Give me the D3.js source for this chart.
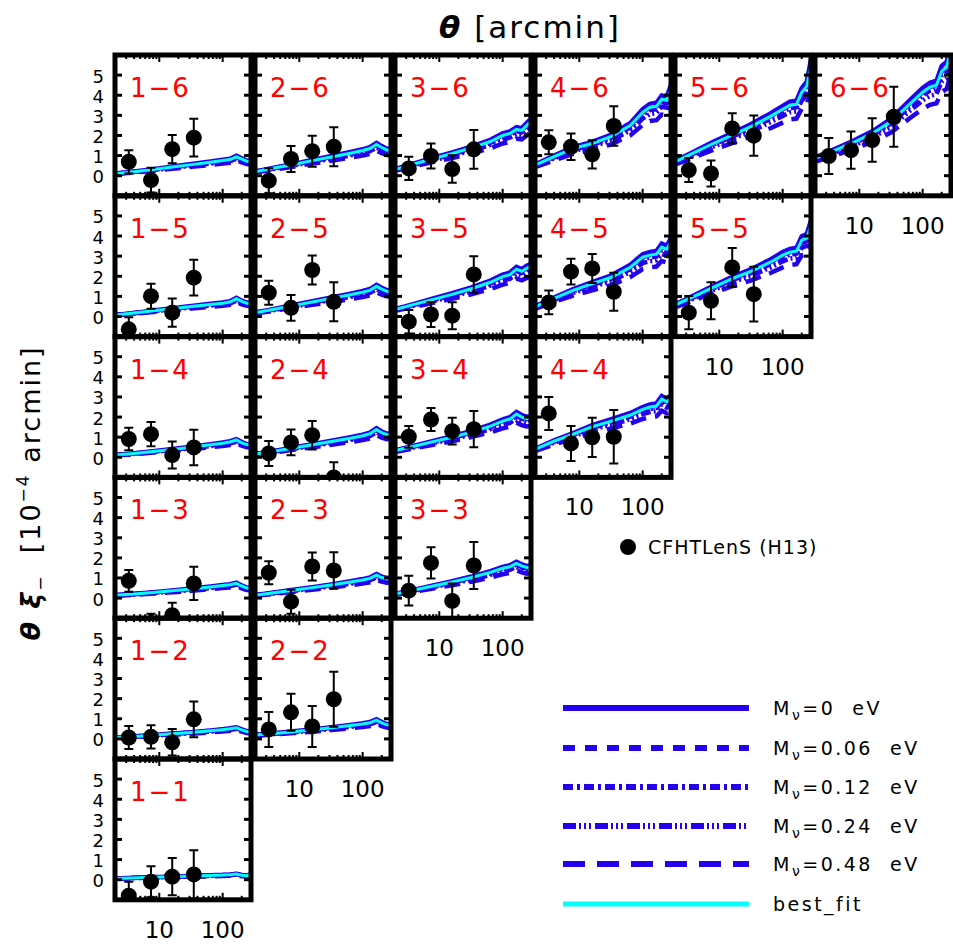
<!DOCTYPE html>
<html><head><meta charset="utf-8">
<script src="https://cdn.jsdelivr.net/npm/d3@7"></script>
<style>body{margin:0;background:#fff} text{font-family:"DejaVu Sans",sans-serif}</style>
</head><body><svg id="c" width="953" height="946"></svg>
<script>
// ---------- data ----------
const thetaGrid = [2, 4, 8, 16, 32, 64, 100, 130, 165, 200, 240, 280];
const thetaData = [3.3, 7.4, 16, 35];
const panelNames = ["1-6","2-6","3-6","4-6","5-6","6-6",
                    "1-5","2-5","3-5","4-5","5-5",
                    "1-4","2-4","3-4","4-4",
                    "1-3","2-3","3-3",
                    "1-2","2-2",
                    "1-1"];
// best_fit curve per panel (theta xi_-, 1e-4 arcmin) at thetaGrid
const bestFit = [
  [0.10,0.20,0.31,0.43,0.55,0.67,0.75,0.80,0.94,0.82,0.72,0.70],
  [0.20,0.38,0.56,0.75,0.93,1.12,1.25,1.35,1.55,1.40,1.28,1.27],
  [0.31,0.58,0.85,1.10,1.38,1.70,2.00,2.10,2.30,2.25,2.50,2.70],
  [0.53,0.95,1.35,1.60,1.95,2.50,3.15,3.40,3.45,3.80,3.75,4.30],
  [0.69,1.15,1.60,2.02,2.45,2.95,3.30,3.50,3.55,4.15,4.45,5.50],
  [0.86,1.25,1.65,2.10,2.70,3.60,4.15,4.40,4.50,5.20,5.40,6.40],
  [0.07,0.17,0.28,0.39,0.50,0.60,0.66,0.72,0.88,0.75,0.66,0.64],
  [0.19,0.36,0.54,0.72,0.90,1.08,1.21,1.30,1.50,1.36,1.25,1.23],
  [0.35,0.60,0.85,1.10,1.38,1.70,1.98,2.08,2.35,2.25,2.40,2.50],
  [0.48,0.90,1.30,1.63,1.95,2.45,2.95,3.05,3.10,3.45,3.35,3.72],
  [0.57,1.00,1.45,1.88,2.25,2.70,3.05,3.20,3.25,3.80,3.90,4.55],
  [0.11,0.19,0.29,0.39,0.50,0.62,0.70,0.76,0.86,0.72,0.63,0.62],
  [0.16,0.30,0.46,0.62,0.78,0.95,1.07,1.17,1.38,1.22,1.12,1.14],
  [0.33,0.55,0.78,1.00,1.25,1.55,1.80,1.90,2.15,2.00,1.92,1.95],
  [0.39,0.80,1.15,1.52,1.80,2.10,2.38,2.50,2.55,2.90,2.75,2.95],
  [0.14,0.20,0.28,0.36,0.45,0.55,0.62,0.66,0.73,0.60,0.50,0.48],
  [0.14,0.26,0.39,0.52,0.65,0.80,0.90,0.98,1.14,1.02,0.95,0.97],
  [0.20,0.40,0.60,0.80,1.02,1.28,1.48,1.56,1.72,1.60,1.52,1.55],
  [0.07,0.12,0.18,0.25,0.32,0.40,0.46,0.50,0.55,0.45,0.37,0.35],
  [0.19,0.27,0.36,0.45,0.55,0.66,0.74,0.80,0.93,0.80,0.70,0.68],
  [0.06,0.09,0.12,0.15,0.18,0.21,0.23,0.25,0.28,0.22,0.20,0.26]
];
// CFHTLenS (H13) points and errors
const xiData = [
  [0.69,-0.22,1.32,1.89],[-0.25,0.83,1.22,1.44],[0.36,0.98,0.33,1.31],
  [1.66,1.44,1.06,2.47],[0.28,0.11,2.35,1.99],[0.98,1.27,1.77,2.93],
  [-0.64,1.01,0.19,1.93],[1.18,0.43,2.31,0.73],[-0.26,0.10,0.04,2.09],
  [0.70,2.23,2.39,1.23],[0.19,0.78,2.44,1.11],
  [0.91,1.15,0.11,0.49],[0.19,0.74,1.10,-1.00],[1.02,1.88,1.30,1.40],[2.18,0.69,0.99,1.02],
  [0.86,-1.40,-0.85,0.73],[1.26,-0.18,1.57,1.37],[0.37,1.75,-0.14,1.62],
  [0.07,0.10,-0.17,0.97],[0.47,1.32,0.62,1.97],
  [-0.80,-0.10,0.15,0.26]
];
const xiErr = [
  [0.58,0.62,0.70,0.94],[0.62,0.65,0.77,0.97],[0.58,0.62,0.68,0.96],
  [0.60,0.66,0.70,0.98],[0.60,0.65,0.75,1.00],[0.89,0.93,1.08,1.49],
  [0.60,0.62,0.70,0.89],[0.60,0.64,0.72,0.97],[0.58,0.62,0.67,0.91],
  [0.59,0.64,0.72,0.95],[0.83,0.92,0.97,1.36],
  [0.56,0.60,0.67,0.88],[0.62,0.64,0.71,0.75],[0.54,0.57,0.67,0.90],[0.82,0.87,0.97,1.33],
  [0.54,0.62,0.62,0.83],[0.57,0.60,0.70,0.91],[0.74,0.78,0.86,1.17],
  [0.57,0.58,0.66,0.89],[0.87,0.92,1.02,1.37],
  [0.70,0.77,0.93,1.20]
];
const modelMass = ["0", "0.06", "0.12", "0.24", "0.48"];
const modelScale = [1.05, 1.0, 0.96, 0.90, 0.80]; // relative amplitude vs best_fit
const yTicks = [0, 1, 2, 3, 4, 5];
const xMajor = [10, 100];
const xMinor = [3,4,5,6,7,8,9,20,30,40,50,60,70,80,90,200];
const xLabels = ["10", "100"];

// ---------- style ----------
const BLUE = "#2400ee", CYAN = "#00ffff", RED = "#ff0000";
const panelDash = [null, "9,8", "8,3,2,3", "10,3,2,3,2,3,2,3", "16,9"];
const legendDash = [null, "12,10", "10,4,3,4", "13,3,2,3,2,3,2,4", "22,12"];
const PW = 136, PH = 140.8, PX = 140, LEFT = 115, TOP = 55;

const svg = d3.select("#c");
const defs = svg.append("defs");

const yScaleFor = r => d3.scaleLinear().domain([-1, 6]).range([TOP + (r + 1) * PH, TOP + r * PH]);
const xScaleFor = c => d3.scaleLog().domain([2, 280]).range([LEFT + c * PX, LEFT + c * PX + PW]);

panelNames.forEach((name, k) => {
  const [i, j] = name.split("-").map(Number);
  const c = i - 1, r = 6 - j;
  const x = xScaleFor(c), y = yScaleFor(r);
  const x0 = x.range()[0], x1 = x.range()[1], yb = y.range()[0], yt = y.range()[1];
  const g = svg.append("g");
  const cid = "clip" + k;
  defs.append("clipPath").attr("id", cid).append("rect")
    .attr("x", x0).attr("y", yt).attr("width", x1 - x0).attr("height", yb - yt);
  const inner = g.append("g").attr("clip-path", `url(#${cid})`);

  const line = d3.line().x(d => x(d[0])).y(d => y(d[1]));
  for (let m = modelScale.length - 1; m >= 0; m--) {
    const pts = thetaGrid.map((t, q) => [t, bestFit[k][q] * modelScale[m]]);
    inner.append("path").attr("d", line(pts)).attr("fill", "none")
      .attr("stroke", BLUE).attr("stroke-width", 4.5)
      .attr("stroke-dasharray", panelDash[m]);
  }
  inner.append("path").attr("d", line(thetaGrid.map((t, q) => [t, bestFit[k][q]])))
    .attr("fill", "none").attr("stroke", CYAN).attr("stroke-width", 3);

  thetaData.forEach((t, q) => {
    const v = xiData[k][q], e = xiErr[k][q], px = x(t);
    inner.append("line").attr("x1", px).attr("x2", px).attr("y1", y(v - e)).attr("y2", y(v + e))
      .attr("stroke", "#000").attr("stroke-width", 2);
    [v - e, v + e].forEach(w => inner.append("line").attr("x1", px - 4.5).attr("x2", px + 4.5)
      .attr("y1", y(w)).attr("y2", y(w)).attr("stroke", "#000").attr("stroke-width", 2));
    inner.append("circle").attr("cx", px).attr("cy", y(v)).attr("r", 8).attr("fill", "#000");
  });

  xMajor.concat(xMinor).forEach(t => {
    const len = xMajor.includes(t) ? 7 : 4;
    [[yb, -len], [yt, len]].forEach(([yy, d]) => g.append("line")
      .attr("x1", x(t)).attr("x2", x(t)).attr("y1", yy).attr("y2", yy + d)
      .attr("stroke", "#000").attr("stroke-width", 2));
  });
  yTicks.forEach(v => {
    [[x0, 7], [x1, -7]].forEach(([xx, d]) => g.append("line")
      .attr("x1", xx).attr("x2", xx + d).attr("y1", y(v)).attr("y2", y(v))
      .attr("stroke", "#000").attr("stroke-width", 3));
  });
  g.append("rect").attr("x", x0).attr("y", yt).attr("width", x1 - x0).attr("height", yb - yt)
    .attr("fill", "none").attr("stroke", "#000").attr("stroke-width", 5);
  g.append("text").attr("x", x0 + 15).attr("y", yt + 42).attr("fill", RED)
    .attr("font-size", 26).attr("letter-spacing", 2).text(i + "\u2212" + j);

  if (c === 0) {
    yTicks.forEach(v => g.append("text").attr("x", x0 - 11).attr("y", y(v) + 7.5)
      .attr("text-anchor", "end").attr("font-size", 18).text(v));
  }
  if (i === j) {
    xMajor.forEach((t, q) => g.append("text").attr("x", x(t)).attr("y", yb + 38)
      .attr("text-anchor", "middle").attr("font-size", 23).text(xLabels[q]));
  }
});

// titles
const tt = svg.append("text").attr("x", 530).attr("y", 38).attr("text-anchor", "middle")
  .attr("font-size", 31).attr("letter-spacing", 2).style("white-space", "pre");
tt.append("tspan").attr("font-weight", "bold").attr("font-style", "italic").text("\u03b8");
tt.append("tspan").text(" [arcmin]");

const yt = svg.append("text").attr("transform", "translate(40,493) rotate(-90)")
  .attr("text-anchor", "middle").attr("font-size", 27).attr("letter-spacing", 2)
  .style("white-space", "pre");
yt.append("tspan").attr("font-weight", "bold").attr("font-style", "italic").text("\u03b8 \u03be");
yt.append("tspan").attr("font-size", 17).attr("dy", 6).text("\u2212");
yt.append("tspan").attr("dy", -6).text("  [10");
yt.append("tspan").attr("font-size", 17).attr("dy", -11).text("\u22124");
yt.append("tspan").attr("dy", 11).text(" arcmin]");

// data legend
svg.append("circle").attr("cx", 628).attr("cy", 547).attr("r", 8).attr("fill", "#000");
svg.append("text").attr("x", 648).attr("y", 554).attr("font-size", 19).attr("letter-spacing", 1)
  .text("CFHTLenS (H13)");

// model legend
const legY = [708, 748, 787, 826, 864, 904];
modelMass.forEach((mv, m) => {
  svg.append("line").attr("x1", 563).attr("x2", 749).attr("y1", legY[m]).attr("y2", legY[m])
    .attr("stroke", BLUE).attr("stroke-width", 6).attr("stroke-dasharray", legendDash[m]);
  const t = svg.append("text").attr("x", 773).attr("y", legY[m] + 7).attr("font-size", 19)
    .attr("letter-spacing", 2.5).style("white-space", "pre");
  t.append("tspan").text("M");
  t.append("tspan").attr("font-size", 14).attr("dy", 5).text("\u03bd");
  t.append("tspan").attr("dy", -5).text("=" + mv + "  eV");
});
svg.append("line").attr("x1", 563).attr("x2", 749).attr("y1", legY[5]).attr("y2", legY[5])
  .attr("stroke", CYAN).attr("stroke-width", 5);
svg.append("text").attr("x", 773).attr("y", legY[5] + 7).attr("font-size", 19)
  .attr("letter-spacing", 2.5).text("best_fit");
</script></body></html>
